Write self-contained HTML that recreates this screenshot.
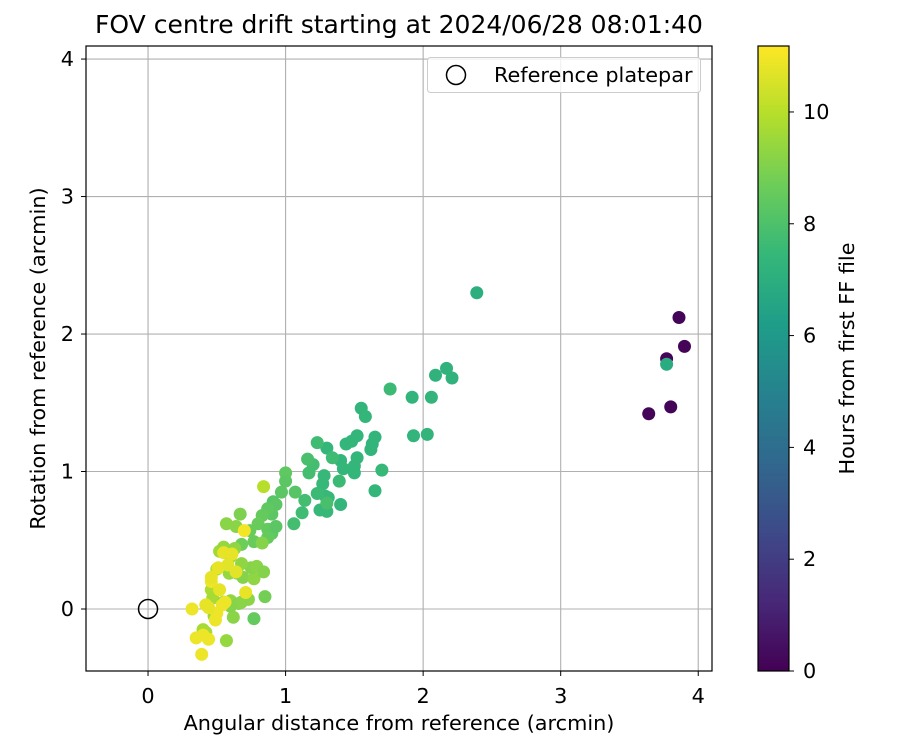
<!DOCTYPE html>
<html><head><meta charset="utf-8"><style>
html,body{margin:0;padding:0;background:#fff;}
svg{display:block;font-family:"DejaVu Sans","Liberation Sans",sans-serif;}
</style></head><body>
<svg id="fig" width="900" height="750" viewBox="0 0 900 750">
<g id="grid"></g>
<g id="pts"></g>
<g id="ax"></g>
<g id="cb"></g>
</svg>
<script>
// data (x arcmin, y arcmin, hours)
const xs = [3.64,3.86,3.90,3.80,3.77, 3.77,2.39,
2.09,2.17,2.21,1.92,2.06,1.93,2.03,1.76,1.70,1.65,1.55,1.58,1.65,1.63,1.62,1.52,1.52,1.50,1.50,1.40,1.42,1.44,1.48,1.39,1.40,1.30,1.23,1.28,1.29,1.31,1.30,1.27,1.25,1.20,1.16,1.17,1.12,1.14,1.06,1.23,1.34,1.30,
1.00,1.00,0.97,0.91,0.93,0.90,0.87,0.83,0.80,0.87,0.90,0.93,0.87,0.74,0.77,0.68,1.07,0.85,0.77,
0.84,0.67,0.64,0.57,0.52,0.55,0.63,0.60,0.59,0.65,0.69,0.77,0.75,0.79,0.84,0.83,0.68,0.50,0.46,0.47,0.55,0.60,0.66,0.73,0.62,0.57,0.68,0.60,0.42,0.40,0.48,
0.70,0.55,0.61,0.58,0.51,0.64,0.46,0.52,0.71,0.32,0.42,0.54,0.50,0.49,0.44,0.35,0.40,0.44,0.39,0.46,0.56];
const ys = [1.42,2.12,1.91,1.47,1.82, 1.78,2.30,
1.70,1.75,1.68,1.54,1.54,1.26,1.27,1.60,1.01,0.86,1.46,1.40,1.25,1.20,1.16,1.26,1.10,1.04,0.99,1.08,1.02,1.20,1.22,0.93,0.76,1.17,1.21,0.97,0.82,0.81,0.71,0.91,0.72,1.05,1.09,0.99,0.70,0.79,0.62,0.84,1.10,0.77,
0.99,0.93,0.85,0.78,0.76,0.69,0.73,0.68,0.62,0.58,0.55,0.60,0.52,0.57,0.49,0.47,0.85,0.09,-0.07,
0.89,0.69,0.60,0.62,0.42,0.45,0.44,0.38,0.26,0.26,0.23,0.22,0.30,0.31,0.27,0.48,0.33,0.29,0.14,0.08,0.05,0.06,0.04,0.07,-0.06,-0.23,0.05,0.02,-0.17,-0.15,-0.05,
0.57,0.41,0.40,0.32,0.30,0.27,0.20,0.14,0.12,0.00,0.03,0.03,-0.03,-0.08,0.01,-0.21,-0.19,-0.22,-0.33,0.23,0.05];
const hs = [0.1,0.1,0.1,0.1,0.1, 6.9,7.0,
7.2,7.2,7.2,7.3,7.3,7.3,7.3,7.6,7.5,7.4,7.3,7.4,7.3,7.3,7.3,7.4,7.4,7.4,7.4,7.4,7.4,7.4,7.4,7.6,7.4,7.4,7.7,7.5,7.5,7.5,7.5,7.5,7.5,7.8,7.9,7.8,7.7,7.8,7.8,7.6,7.7,7.9,
8.4,8.3,8.3,8.2,8.3,8.3,8.4,8.5,8.6,8.5,8.4,8.3,8.5,8.6,8.6,8.7,8.2,8.8,8.5,
10.0,9.0,9.2,9.2,9.6,9.4,9.3,9.6,9.4,9.2,9.1,9.3,9.1,9.2,9.1,9.1,9.3,9.8,9.8,9.7,9.2,9.3,9.1,9.2,9.2,9.4,9.2,9.1,9.7,9.7,9.5,
11.0,10.8,10.8,10.7,10.8,10.7,10.9,10.8,10.8,10.9,10.8,10.9,10.9,10.9,10.8,10.9,10.9,10.9,10.9,10.8,10.9];
const xTicks = [0,1,2,3,4];
const yTicks = [0,1,2,3,4];
const cTicks = [0,2,4,6,8,10];

const NS="http://www.w3.org/2000/svg";
const L=86,T=46,W=626,H=625;
const xMin=-0.451,xMax=4.10,yMin=-0.451,yMax=4.095,cMax=11.18;
const sx=v=>L+(v-xMin)/(xMax-xMin)*W;
const sy=v=>T+H-(v-yMin)/(yMax-yMin)*H;
const vir=[[68,1,84],[72,40,120],[62,74,137],[49,104,142],[38,130,142],[31,158,137],[53,183,121],[109,205,89],[180,222,44],[253,231,37]];
function cmap(t){t=Math.max(0,Math.min(1,t));const p=t*(vir.length-1),i=Math.min(vir.length-2,Math.floor(p)),f=p-i;
const c=vir[i].map((a,k)=>Math.round(a+(vir[i+1][k]-a)*f));return `rgb(${c[0]},${c[1]},${c[2]})`;}
function mk(tag,attrs,parent,text){const e=document.createElementNS(NS,tag);for(const k in attrs)e.setAttribute(k,attrs[k]);if(text!==undefined)e.textContent=text;parent.appendChild(e);return e;}
const grid=document.getElementById('grid'),pts=document.getElementById('pts'),ax=document.getElementById('ax'),cb=document.getElementById('cb');
const FS=20.8;
xTicks.forEach(v=>{const g=mk('line',{x1:sx(v),x2:sx(v),y1:T,y2:T+H,stroke:'#b0b0b0','stroke-width':1.1},grid);

mk('line',{x1:sx(v),x2:sx(v),y1:T+H,y2:T+H+5,stroke:'#000'},ax);
const t=mk('text',{x:sx(v),y:T+H+32,'text-anchor':'middle','font-size':FS},ax,String(v));
});
yTicks.forEach(v=>{const g=mk('line',{x1:L,x2:L+W,y1:sy(v),y2:sy(v),stroke:'#b0b0b0','stroke-width':1.1},grid);

mk('line',{x1:L-5,x2:L,y1:sy(v),y2:sy(v),stroke:'#000'},ax);
const t=mk('text',{x:L-12,y:sy(v)+7,'text-anchor':'end','font-size':FS},ax,String(v));
});
xs.forEach((x,i)=>{const c=mk('circle',{cx:sx(x),cy:sy(ys[i]),r:6.5,fill:cmap(hs[i]/cMax)},pts);
});
const ref=mk('circle',{cx:sx(0),cy:sy(0),r:9.5,fill:'none',stroke:'#000','stroke-width':1.5},pts);

const fr=mk('rect',{x:L,y:T,width:W,height:H,fill:'none',stroke:'#000','stroke-width':1.2},ax);

const ti=mk('text',{x:L+W/2,y:33,'text-anchor':'middle','font-size':25},ax,'FOV centre drift starting at 2024/06/28 08:01:40');

const xl=mk('text',{x:L+W/2,y:730,'text-anchor':'middle','font-size':FS},ax,'Angular distance from reference (arcmin)');

const yl=mk('text',{x:0,y:0,'text-anchor':'middle','font-size':FS,transform:`translate(45,${T+H/2}) rotate(-90)`},ax,'Rotation from reference (arcmin)');

// legend
const lg=mk('g',{},ax);
mk('rect',{x:427.5,y:57.5,width:273,height:35,rx:3,fill:'#fff','fill-opacity':0.8,stroke:'#ccc'},lg);
mk('circle',{cx:456,cy:75,r:9.5,fill:'none',stroke:'#000','stroke-width':1.5},lg);
const lt=mk('text',{x:494,y:82,'font-size':FS},lg,'Reference platepar');

// colorbar
const CL=758,CT=46,CW=31,CH=625;
for(let i=0;i<CH;i++){mk('rect',{x:CL,y:CT+CH-i-1,width:CW,height:1.2,fill:cmap((i+0.5)/CH)},cb);}
mk('rect',{x:CL,y:CT,width:CW,height:CH,fill:'none',stroke:'#000','stroke-width':1.2},cb);
cTicks.forEach(v=>{const y=CT+CH-v/cMax*CH;mk('line',{x1:CL+CW,x2:CL+CW+5,y1:y,y2:y,stroke:'#000'},cb);
const t=mk('text',{x:CL+CW+14,y:y+7,'font-size':FS},cb,String(v));
});
const cl=mk('text',{x:0,y:0,'text-anchor':'middle','font-size':FS,transform:`translate(854,${CT+CH/2}) rotate(-90)`},cb,'Hours from first FF file');

</script>
</body></html>
